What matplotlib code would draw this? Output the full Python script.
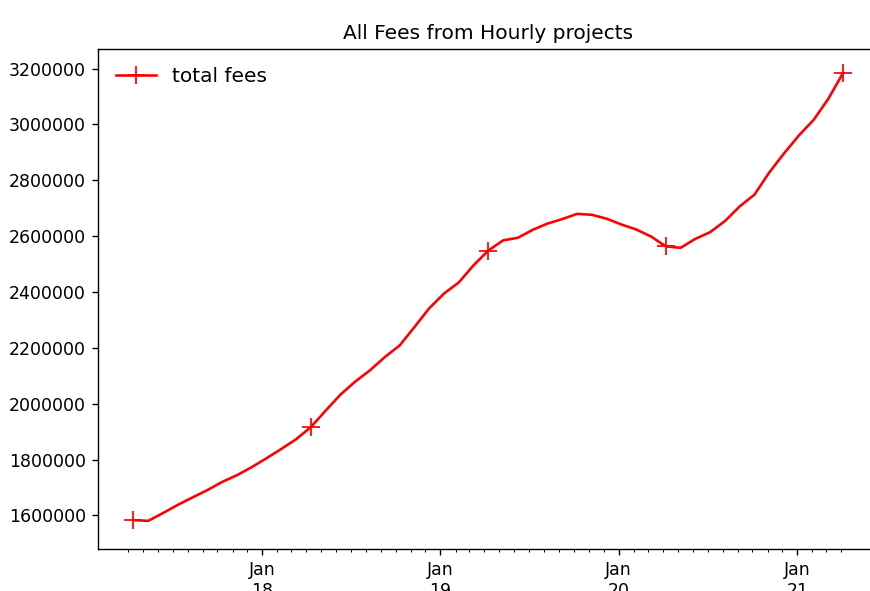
import matplotlib
matplotlib.use("Agg")
import matplotlib.pyplot as plt
import matplotlib.dates as mdates
import matplotlib.ticker as mticker
import pandas as pd

# monthly readings of the running total, Apr 2017 .. Apr 2021
start_date = "2017-04-12"
end_date = "2021-04-05"
total_fees = [
    1583200, 1580700, 1608600, 1637900, 1664700, 1690800, 1720100, 1744100,
    1773000, 1804900, 1838100, 1872800, 1916400, 1975400, 2032600, 2079400,
    2119800, 2167000, 2208500, 2274200, 2341500, 2394400, 2434000, 2495500,
    2548500, 2584900, 2594200, 2622500, 2645000, 2661100, 2679700, 2676400,
    2662500, 2641700, 2623900, 2598800, 2563400, 2558100, 2590300, 2614200,
    2653900, 2706500, 2748700, 2828000, 2896300, 2960300, 3016100, 3092200,
    3184800,
]
dates = pd.date_range(start_date, end_date, periods=len(total_fees))

dpi = 125
fig = plt.figure(figsize=(870 / dpi, 591 / dpi), dpi=dpi)
ax = fig.add_axes([0.1126, 0.0711, 0.8974, 0.846])

ax.plot(dates, total_fees, color="red", marker="+", markersize=10,
        markevery=12, linewidth=1.5, label="total fees")

ax.set_ylim(1480000, 3270000)
ax.yaxis.set_major_locator(mticker.MultipleLocator(200000))
ax.yaxis.set_major_formatter(mticker.FormatStrFormatter("%d"))

ax.xaxis.set_major_locator(mdates.YearLocator())
ax.xaxis.set_major_formatter(mdates.DateFormatter("%b\n%y"))
months = pd.date_range(dates[0].to_period("M").to_timestamp(), dates[-1], freq="MS")
ax.xaxis.set_minor_locator(mticker.FixedLocator(mdates.date2num(months)))
ax.tick_params(axis="both", labelsize=10)
for lbl in ax.get_xticklabels():
    lbl.set_horizontalalignment("center")

ax.set_title("All Fees from Hourly projects", fontsize=11.6)
ax.legend(loc="upper left", frameon=False, fontsize=11.6)

fig.savefig("out.png", dpi=dpi)
plt.close(fig)
